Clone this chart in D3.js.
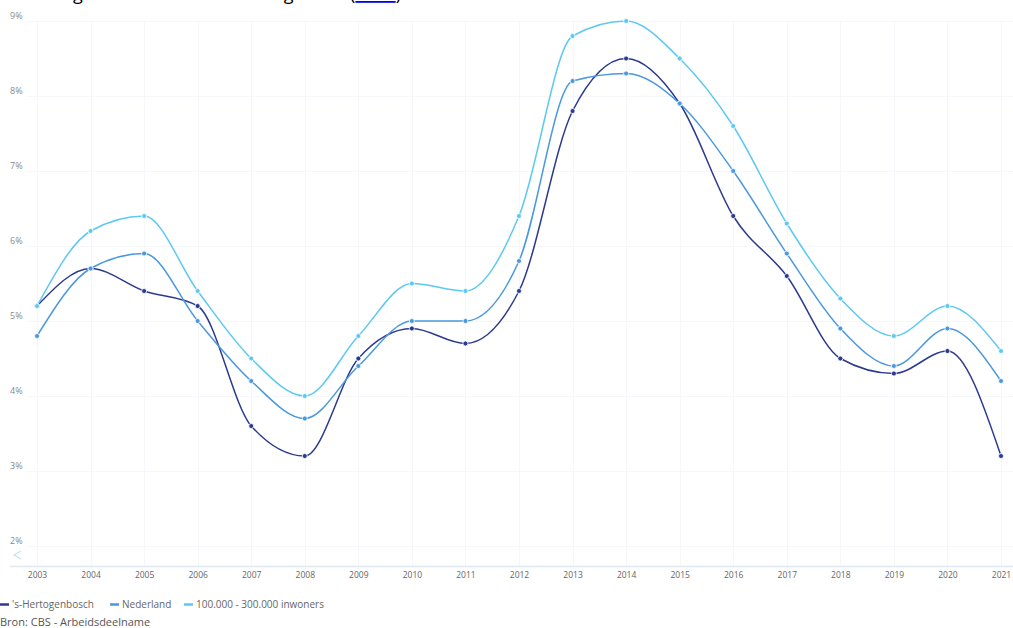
<!DOCTYPE html>
<html><head><meta charset="utf-8">
<script src="https://cdn.jsdelivr.net/npm/d3@7"></script>
<style>
html,body{margin:0;padding:0;background:#fff;overflow:hidden}
svg{display:block;font-family:"Open Sans",sans-serif}
</style></head>
<body>
<svg id="chart" width="1013" height="628"></svg>
<script>
const years = ["2003","2004","2005","2006","2007","2008","2009","2010","2011","2012","2013","2014","2015","2016","2017","2018","2019","2020","2021"];
const denBosch = [5.2,5.7,5.4,5.2,3.6,3.2,4.5,4.9,4.7,5.4,7.8,8.5,7.9,6.4,5.6,4.5,4.3,4.6,3.2];
const nederland = [4.8,5.7,5.9,5.0,4.2,3.7,4.4,5.0,5.0,5.8,8.2,8.3,7.9,7.0,5.9,4.9,4.4,4.9,4.2];
const grootte = [5.2,6.2,6.4,5.4,4.5,4.0,4.8,5.5,5.4,6.4,8.8,9.0,8.5,7.6,6.3,5.3,4.8,5.2,4.6];
const seriesNames = ["'s-Hertogenbosch","Nederland","100.000 - 300.000 inwoners"];
const seriesColors = ["#2b3a8f","#4a98de","#5cc8f4"];
const yTicks = [2,3,4,5,6,7,8,9];
const titleText = "Werkloosheid per jaar, in vergelijking met Nederland en gemeenten van dezelfde grootte";
const linkText = "bron";
const sourceText = "Bron: CBS - Arbeidsdeelname";

const series = [denBosch, nederland, grootte];
const svg = d3.select("#chart");

const x = d3.scalePoint().domain(years).range([37, 1001]);
const y = d3.scaleLinear().domain([2, 9]).range([546, 21]);
const plotLeft = 27, plotRight = 1013, baseY = 566;

// cropped title at top (cut off in the reference as well)
const t = svg.append("text").attr("x", 401).attr("y", 0).attr("text-anchor", "end")
  .attr("font-size", 18).attr("fill", "#000").attr("font-family", "'Segoe UI','Open Sans',sans-serif");
t.append("tspan").text(titleText + " (");
t.append("tspan").attr("fill", "#0000ee").attr("text-decoration", "underline").text(linkText);
t.append("tspan").text(")");

// grid
const g = svg.append("g");
g.selectAll("line.hg").data(yTicks).join("line")
  .attr("x1", plotLeft).attr("x2", plotRight)
  .attr("y1", d => y(d) + 0.5).attr("y2", d => y(d) + 0.5)
  .attr("stroke", "#f5f7fa").attr("stroke-width", 1);
g.selectAll("line.vg").data(years).join("line")
  .attr("x1", d => Math.round(x(d)) + 0.5).attr("x2", d => Math.round(x(d)) + 0.5)
  .attr("y1", 21).attr("y2", baseY)
  .attr("stroke", "#f5f7fa").attr("stroke-width", 1);

// baseline
svg.append("line").attr("x1", 10).attr("x2", plotRight).attr("y1", baseY + 0.5).attr("y2", baseY + 0.5)
  .attr("stroke", "#dde8f2").attr("stroke-width", 1.5);

// y labels
svg.selectAll("text.yl").data(yTicks).join("text")
  .attr("x", 10).attr("y", d => y(d) - 5).attr("dy", "0.35em")
  .attr("font-size", 9).attr("fill", "#8a8a8a").text(d => d + "%");

// x labels
const xAxis = d3.axisBottom(x).tickSize(0).tickPadding(0);
const xg = svg.append("g").attr("transform", `translate(0,${baseY + 6})`).call(xAxis);
xg.select(".domain").remove();
xg.selectAll("text").attr("font-size", 8.5).attr("fill", "#666").attr("font-family", "'Open Sans',sans-serif").attr("dy", "0.71em");

// share icon
svg.append("path").attr("d", "M21,551 L14,555 L21,559").attr("fill", "none").attr("stroke", "#c5e2f5").attr("stroke-width", 1.2);

// lines
const line = d3.line().x((d, i) => x(years[i])).y(d => y(d)).curve(d3.curveMonotoneX);
series.forEach((s, k) => {
  svg.append("path").datum(s).attr("d", line).attr("fill", "none")
    .attr("stroke", seriesColors[k]).attr("stroke-width", 1.5);
});
series.forEach((s, k) => {
  svg.append("g").selectAll("circle").data(s).join("circle")
    .attr("cx", (d, i) => x(years[i])).attr("cy", d => y(d)).attr("r", 2.5)
    .attr("fill", seriesColors[k]).attr("stroke", "#fff").attr("stroke-width", 0.8);
});

// legend
const legX = [0, 110, 184];
seriesNames.forEach((n, k) => {
  svg.append("line").attr("x1", legX[k]).attr("x2", legX[k] + 9).attr("y1", 604.5).attr("y2", 604.5)
    .attr("stroke", seriesColors[k]).attr("stroke-width", 2.5);
  svg.append("text").attr("x", legX[k] + 12).attr("y", 604).attr("dy", "0.35em")
    .attr("font-size", 10).attr("fill", "#666").text(n);
});

// source
svg.append("text").attr("x", 0).attr("y", 622).attr("dy", "0.35em")
  .attr("font-size", 11).attr("fill", "#555").text(sourceText);
</script>
</body></html>
